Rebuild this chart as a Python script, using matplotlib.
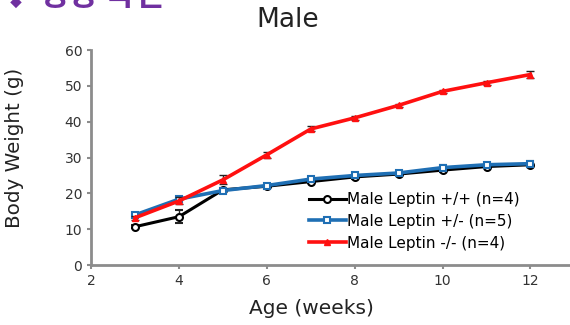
import numpy as np
import matplotlib.pyplot as plt
from matplotlib.lines import Line2D

plt.rcParams['font.family'] = ['DejaVu Sans', 'Noto Sans CJK KR']

weeks = [3, 4, 5, 6, 7, 8, 9, 10, 11, 12]
wt_mean = [10.7, 13.5, 21.0, 22.0, 23.3, 24.6, 25.4, 26.5, 27.5, 28.0]
wt_err = [0.5, 1.8, 0.6, 0.5, 0.5, 0.5, 0.5, 0.5, 0.5, 0.6]
het_mean = [14.0, 18.4, 20.8, 22.2, 24.0, 25.0, 25.7, 27.2, 28.0, 28.3]
het_err = [0.4, 0.5, 0.5, 0.5, 0.5, 0.5, 0.5, 0.7, 0.5, 0.8]
ko_mean = [13.2, 17.9, 23.8, 30.8, 38.0, 41.1, 44.6, 48.5, 50.9, 53.2]
ko_err = [0.5, 1.0, 1.3, 0.8, 0.7, 0.5, 0.5, 0.5, 0.5, 0.9]
labels = ['Male Leptin +/+ (n=4)', 'Male Leptin +/- (n=5)', 'Male Leptin -/- (n=4)']

fig = plt.figure(figsize=(5.7, 3.25), dpi=100)
ax = fig.add_axes([0.16, 0.1846, 0.84, 0.661])

styles = [
    dict(color='black', lw=2.2, marker='o', ms=5, mfc='white', mec='black', mew=1.5),
    dict(color='#1F6FB4', lw=2.6, marker='s', ms=5, mfc='white', mec='#1F6FB4', mew=1.5),
    dict(color='#FF1010', lw=2.6, marker='^', ms=5, mfc='#FF1010', mec='#FF1010'),
]
series = [(wt_mean, wt_err), (het_mean, het_err), (ko_mean, ko_err)]
handles = []
for (m, e), st, lab, z in zip(series, styles, labels, [3, 4, 5]):
    ax.errorbar(weeks, m, yerr=e, capsize=3, ecolor='#222222', elinewidth=1, zorder=z, **st)
    handles.append(Line2D([], [], label=lab, **st))

ax.set_xlim(2, 12.9)
ax.set_ylim(0, 60)
ax.set_xticks([2, 4, 6, 8, 10, 12])
ax.set_yticks(np.arange(0, 61, 10))
for side in ['top', 'right']:
    ax.spines[side].set_visible(False)
for side in ['left', 'bottom']:
    ax.spines[side].set_color('#8C8C8C')
    ax.spines[side].set_linewidth(2)
ax.tick_params(colors='#8C8C8C', labelcolor='#333333', labelsize=10, length=3, width=1.5)

fig.text(0.505, 0.938, 'Male', fontsize=19, color='#222222', ha='center', va='center')
ax.set_ylabel('Body Weight (g)', fontsize=14.3, color='#222222')
ax.yaxis.set_label_coords(-0.14, 0.545)
ax.set_xlabel('Age (weeks)', fontsize=14.5, color='#222222')
ax.xaxis.set_label_coords(0.46, -0.158)

ax.legend(handles=handles, loc='upper left', bbox_to_anchor=(0.455, 0.34), frameon=False,
          fontsize=11, handlelength=2.4, handletextpad=0.1, labelspacing=0.45, borderaxespad=0,
          borderpad=0)

fig.text(0.0, 1.012, '❖ 성장 곡선', fontsize=23, fontweight='bold', color='#7030A0',
         ha='left', va='center', family=['Noto Sans CJK KR', 'DejaVu Sans'])

fig.savefig('out.png', dpi=100)
